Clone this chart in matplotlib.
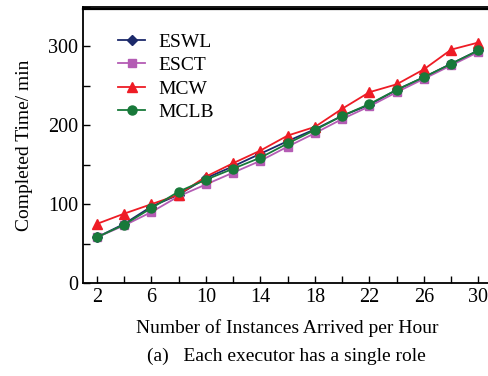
import matplotlib.pyplot as plt

plt.rcParams["font.family"] = ["Liberation Serif", "DejaVu Serif"]

x = [2, 4, 6, 8, 10, 12, 14, 16, 18, 20, 22, 24, 26, 28, 30]
eswl = [58, 75, 97, 112, 133, 148, 164, 180, 195, 212, 226, 245, 261, 278, 295]
esct = [58, 73, 90, 110, 125, 140, 155, 173, 190, 208, 224, 242, 259, 276, 293]
mcw = [75, 88, 100, 112, 135, 152, 168, 187, 198, 221, 242, 252, 271, 296, 305]
mclb = [58, 74, 95, 116, 131, 145, 159, 177, 194, 212, 227, 245, 261, 278, 295]

fig = plt.figure(figsize=(4.89, 3.76), dpi=100)
ax = fig.add_axes([0.1704, 0.2473, 0.8358, 0.7340])

ax.plot(x, eswl, color="#1c2a6b", marker="D", markersize=5, lw=1.3, label="ESWL")
ax.plot(x, esct, color="#b45cb4", marker="s", markersize=6, lw=1.3, label="ESCT")
ax.plot(x, mcw, color="#ee1c25", marker="^", markersize=7.5, lw=1.3, label="MCW")
ax.plot(x, mclb, color="#18793a", marker="o", markersize=6.5, lw=1.3, label="MCLB")

ax.set_xlim(1, 31)
ax.set_ylim(0, 348)
ax.set_xticks(range(2, 31, 4))
ax.set_xticks(range(2, 31, 2), minor=True)
ax.set_yticks([0, 100, 200, 300])
ax.set_yticks(range(0, 351, 50), minor=True)
ax.tick_params(which="both", direction="in", labelsize=14.5)
ax.tick_params(which="major", length=5, width=1)
ax.tick_params(which="minor", length=5, width=1)
for s in ax.spines.values():
    s.set_linewidth(1.3)
# top border drawn explicitly so it is not lost at the canvas edge
ax.plot([1, 31], [348, 348], color="black", lw=1.6, clip_on=False, zorder=5)

ax.set_xlabel("Number of Instances Arrived per Hour", fontsize=14, labelpad=9)
ax.set_ylabel("Completed Time/ min", fontsize=14, labelpad=11)

ax.legend(loc="upper left", bbox_to_anchor=(0.052, 0.955), frameon=False,
          fontsize=14, handlelength=1.4, handletextpad=0.67,
          labelspacing=0.3, borderaxespad=0.3)

fig.text(0.585, 0.04, "(a)   Each executor has a single role", fontsize=14, ha="center")

fig.savefig("out.png", dpi=100)
